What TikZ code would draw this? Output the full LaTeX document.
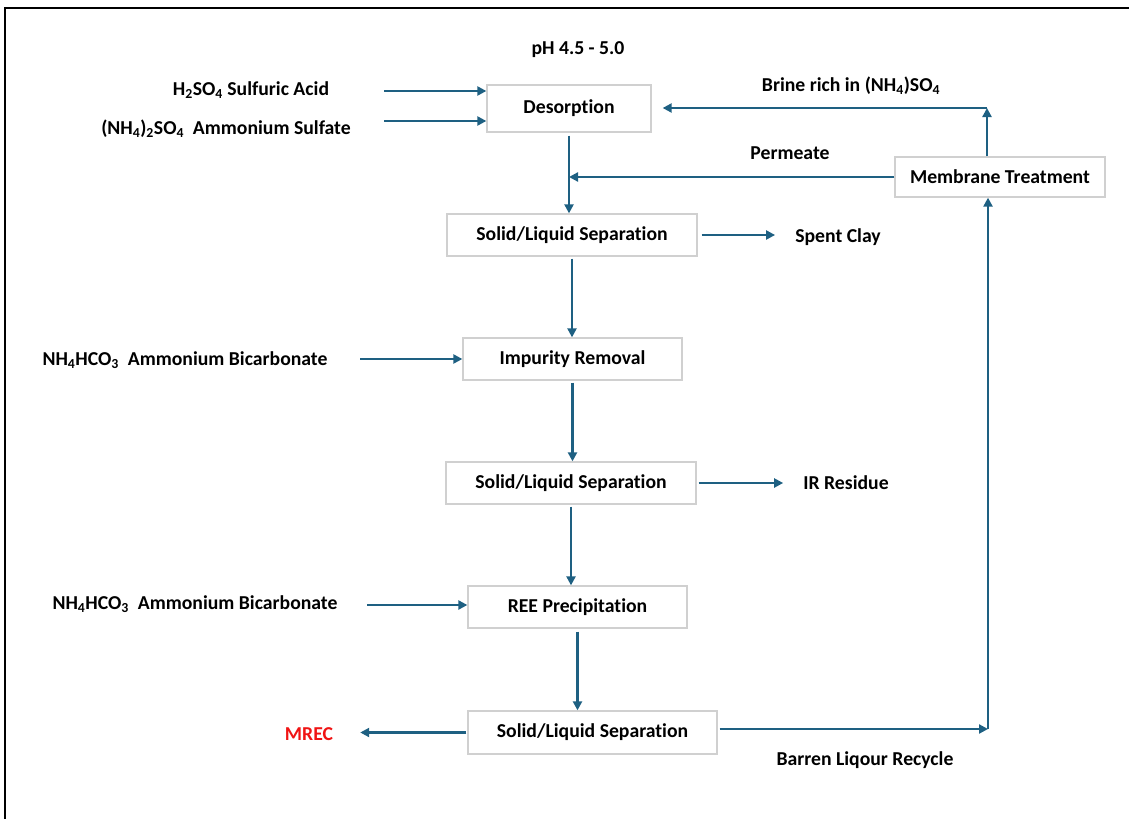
\documentclass[tikz,border=0pt]{standalone}
\usepackage{fontspec}
\setmainfont[Ligatures=NoCommon]{Carlito}
\usetikzlibrary{arrows.meta}
\definecolor{arr}{RGB}{30,96,130}
\definecolor{boxc}{RGB}{208,208,208}
\definecolor{mrec}{RGB}{240,20,20}
\newcommand\sbs[1]{\textsubscript{#1}}
\begin{document}
\begin{tikzpicture}[x=1pt,y=-1pt,
  font=\fontsize{19.7}{23}\selectfont\bfseries,
  box/.style={draw=boxc,line width=1.3pt,inner sep=0pt,fill=white},
  lbl/.style={inner sep=0pt},
  flow/.style={draw=arr,line width=2.2pt,-{Triangle[length=9pt,width=9pt]}}]
\useasboundingbox (0,0) rectangle (1129,819);
\draw[line width=2pt] (1129,8) -- (5,8) -- (5,819);

% boxes
\node[box,minimum width=164pt,minimum height=47pt] (des) at (569,108.5) {Desorption};
\node[box,minimum width=210pt,minimum height=40pt] (mem) at (1000,177) {Membrane Treatment};
\node[box,minimum width=250pt,minimum height=42pt] (sl1) at (572,235) {Solid/Liquid Separation};
\node[box,minimum width=219pt,minimum height=42pt] (ir) at (572.5,359) {Impurity Removal};
\node[box,minimum width=250pt,minimum height=42pt] (sl2) at (571,483) {Solid/Liquid Separation};
\node[box,minimum width=219pt,minimum height=42pt] (ree) at (577.5,607) {REE Precipitation};
\node[box,minimum width=249pt,minimum height=43pt] (sl3) at (592.5,732.5) {Solid/Liquid Separation};

% labels
\node[lbl] (ph) at (578,50) {pH 4.5 - 5.0};
\node[lbl] (brine) at (851,86) {Brine rich in (NH\sbs{4})SO\sbs{4}};
\node[lbl] (perm) at (790,153) {Permeate};
\node[lbl] (spent) at (838,237) {Spent Clay};
\node[lbl] (irres) at (846,483) {IR Residue};
\node[lbl] (barren) at (865,760) {Barren Liqour Recycle};
\node[lbl,text=mrec] (mrec) at (309,734) {MREC};
\node[lbl] (h2so4) at (251,90) {H\sbs{2}SO\sbs{4} Sulfuric Acid};
\node[lbl] (amsul) at (226,129) {(NH\sbs{4})\sbs{2}SO\sbs{4}\ \ Ammonium Sulfate};
\node[lbl] (bic1) at (185,360) {NH\sbs{4}HCO\sbs{3}\ \ Ammonium Bicarbonate};
\node[lbl] (bic2) at (195,604) {NH\sbs{4}HCO\sbs{3}\ \ Ammonium Bicarbonate};

% inputs
\coordinate (a1) at (384,91);
\coordinate (a2) at (384,121);
\draw[flow] (a1) -- (a1 -| des.west);
\draw[flow] (a2) -- (a2 -| des.west);
\coordinate (a3) at (360,359);
\draw[flow] (a3) -- (a3 -| ir.west);
\coordinate (a4) at (367,605);
\draw[flow] (a4) -- (a4 -| ree.west);

% main line
\draw[flow,shorten <=3pt] (des.south) -- (des.south |- sl1.north);
\draw[flow,shorten <=2pt] (sl1.south) -- (sl1.south |- ir.north);
\draw[flow,shorten <=2pt] (ir.south) -- (ir.south |- sl2.north);
\draw[flow,shorten <=2pt] (sl2.south) -- (sl2.south |- ree.north);
\draw[flow,shorten <=3pt] (ree.south) -- (ree.south |- sl3.north);

% outputs
\draw[flow,shorten <=4pt,shorten >=20pt] (sl1.east) -- (sl1.east -| spent.west);
\draw[flow,shorten <=2pt,shorten >=20pt] (sl2.east) -- (sl2.east -| irres.west);
\draw[flow,shorten <=1pt,shorten >=27pt] (sl3.west) -- (sl3.west -| mrec.east);

% recycle
\coordinate (rc) at (988,729);
\draw[flow,shorten <=2pt] (sl3.east |- rc) -- (rc);
\draw[flow] (rc) -- (rc |- mem.south);
\draw[flow] (mem.west) -- (mem.west -| des.south);
\coordinate (bc) at (987,108);
\draw[flow] (bc |- mem.north) -- (bc);
\draw[flow,shorten >=11pt] (bc) -- (bc -| des.east);
\end{tikzpicture}
\end{document}
